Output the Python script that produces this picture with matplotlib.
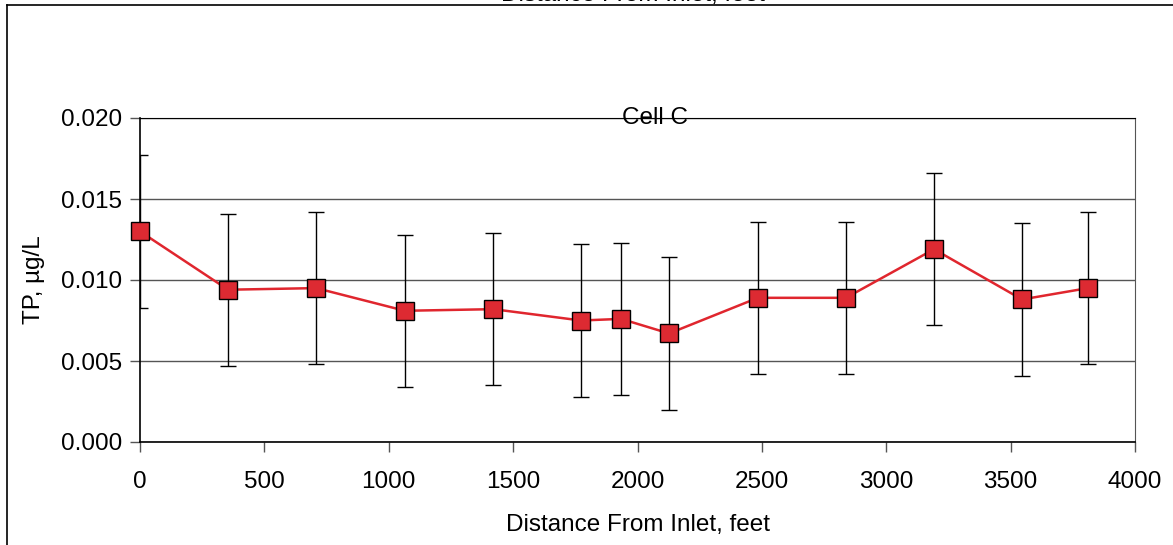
import matplotlib
matplotlib.use("Agg")
import matplotlib.pyplot as plt
from matplotlib.lines import Line2D

plt.rcParams['font.family'] = ['Liberation Sans', 'DejaVu Sans']

# data
distance = [0, 354, 708, 1065, 1420, 1773, 1934, 2127, 2484, 2838, 3192, 3546, 3811]
tp = [0.0130, 0.0094, 0.0095, 0.0081, 0.0082, 0.0075, 0.0076, 0.0067, 0.0089, 0.0089, 0.0119, 0.0088, 0.0095]
err = [0.0047, 0.0047, 0.0047, 0.0047, 0.0047, 0.0047, 0.0047, 0.0047, 0.0047, 0.0047, 0.0047, 0.0047, 0.0047]
xticks = [0, 500, 1000, 1500, 2000, 2500, 3000, 3500, 4000]
yticks = [0.000, 0.005, 0.010, 0.015, 0.020]

FS = 17.5
W, H = 1173, 545
fig = plt.figure(figsize=(W / 100, H / 100), dpi=100)
ax = fig.add_axes([140 / W, 1 - 442 / H, 995 / W, 324 / H])

ax.errorbar(distance, tp, yerr=err, fmt='none', ecolor='black', elinewidth=1.0,
            capsize=5.5, capthick=1.0, zorder=2)
ax.plot(distance, tp, color='#e0262e', lw=1.8, marker='s', markersize=13.5,
        markerfacecolor='#dd2a32', markeredgecolor='black', markeredgewidth=1.0,
        zorder=3, clip_on=False)

ax.set_xlim(0, 4000)
ax.set_ylim(0, 0.020)
ax.set_xticks(xticks)
ax.set_yticks(yticks)
ax.set_yticklabels([f"{v:.3f}" for v in yticks])
ax.tick_params(axis='both', labelsize=FS, direction='out', length=7, width=1,
               colors='#555555', labelcolor='black', pad=6)
ax.tick_params(axis='x', pad=14)
ax.yaxis.grid(True, color='#555555', lw=1)
ax.set_axisbelow(True)

for side in ['left', 'bottom', 'top']:
    ax.spines[side].set_color('black')
ax.spines['right'].set_color('#555555')
ax.spines['left'].set_linewidth(1.2)
ax.spines['bottom'].set_linewidth(1.2)

ax.set_xlabel('Distance From Inlet, feet', fontsize=FS, labelpad=15)
ax.set_ylabel('TP, µg/L', fontsize=FS, labelpad=11)
ax.text(0.518, 1.0, 'Cell C', transform=ax.transAxes, ha='center', va='center',
        fontsize=FS, zorder=5)

# clipped title of the chart above and outer frame
fig.text(633 / W, 1 + 5 / H, 'Distance From Inlet, feet', ha='center', va='center',
         fontsize=FS)
fig.add_artist(Line2D([7 / W, 1], [1 - 5 / H, 1 - 5 / H], transform=fig.transFigure,
                      color='black', lw=1.2))
fig.add_artist(Line2D([7 / W, 7 / W], [0, 1 - 5 / H], transform=fig.transFigure,
                      color='black', lw=1.2))

fig.savefig('out.png', dpi=100)
